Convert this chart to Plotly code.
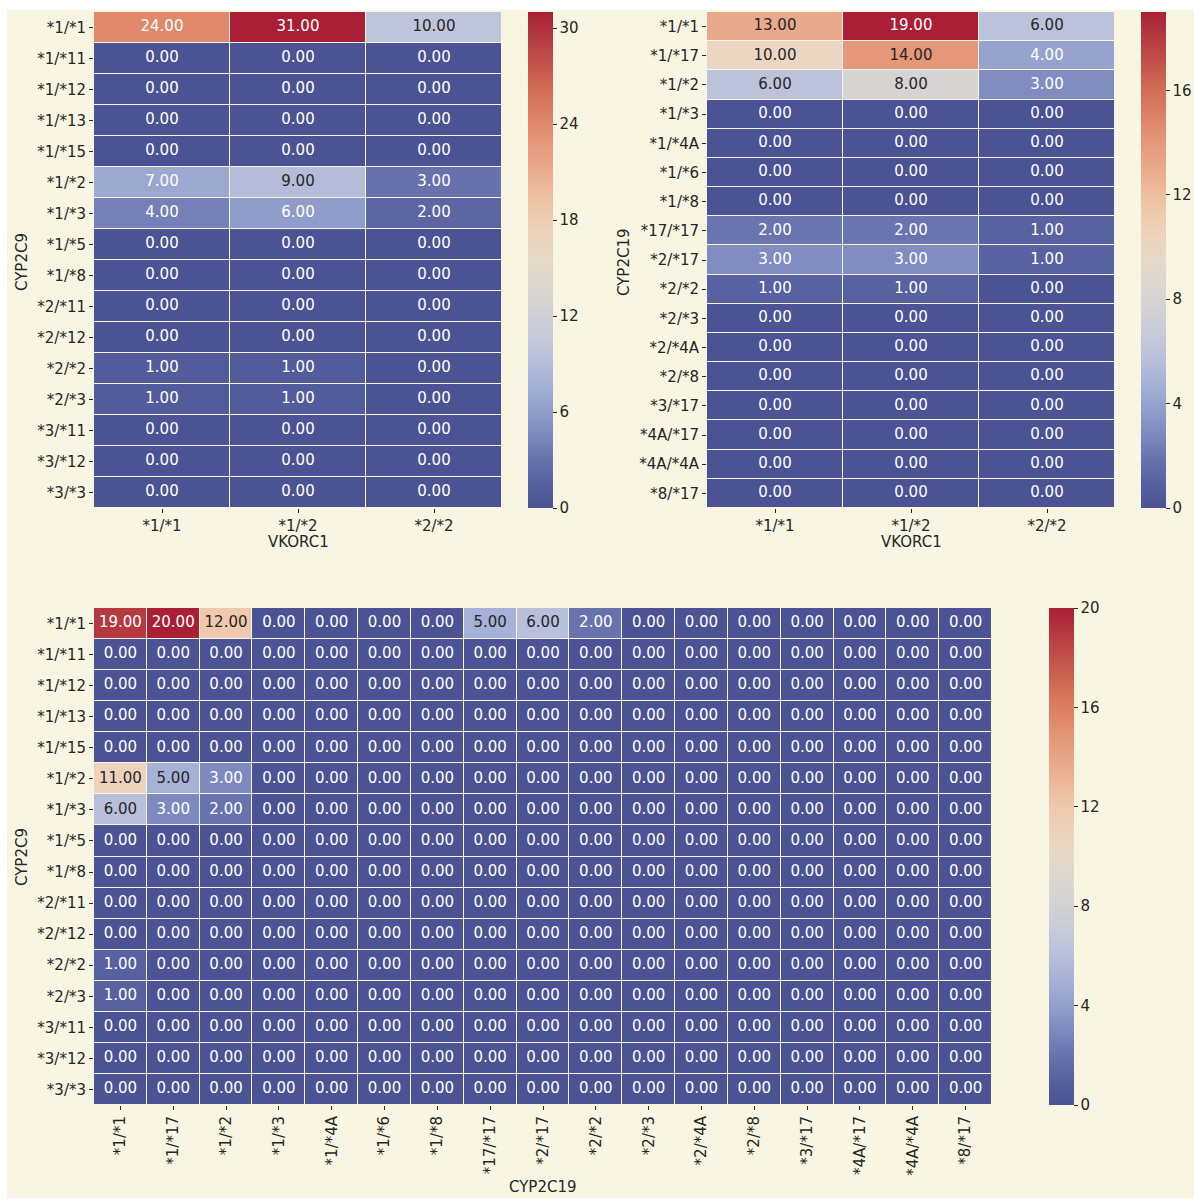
import plotly.graph_objects as go

# Genotype categories
cyp2c9 = ["*1/*1", "*1/*11", "*1/*12", "*1/*13", "*1/*15", "*1/*2", "*1/*3", "*1/*5",
          "*1/*8", "*2/*11", "*2/*12", "*2/*2", "*2/*3", "*3/*11", "*3/*12", "*3/*3"]
cyp2c19 = ["*1/*1", "*1/*17", "*1/*2", "*1/*3", "*1/*4A", "*1/*6", "*1/*8", "*17/*17",
           "*2/*17", "*2/*2", "*2/*3", "*2/*4A", "*2/*8", "*3/*17", "*4A/*17", "*4A/*4A", "*8/*17"]
vkorc1 = ["*1/*1", "*1/*2", "*2/*2"]

# CYP2C9 x VKORC1 counts
c9_vk = [
    [24, 31, 10],
    [0, 0, 0],
    [0, 0, 0],
    [0, 0, 0],
    [0, 0, 0],
    [7, 9, 3],
    [4, 6, 2],
    [0, 0, 0],
    [0, 0, 0],
    [0, 0, 0],
    [0, 0, 0],
    [1, 1, 0],
    [1, 1, 0],
    [0, 0, 0],
    [0, 0, 0],
    [0, 0, 0],
]

# CYP2C19 x VKORC1 counts
c19_vk = [
    [13, 19, 6],
    [10, 14, 4],
    [6, 8, 3],
    [0, 0, 0],
    [0, 0, 0],
    [0, 0, 0],
    [0, 0, 0],
    [2, 2, 1],
    [3, 3, 1],
    [1, 1, 0],
    [0, 0, 0],
    [0, 0, 0],
    [0, 0, 0],
    [0, 0, 0],
    [0, 0, 0],
    [0, 0, 0],
    [0, 0, 0],
]

# CYP2C9 x CYP2C19 counts
c9_c19 = [
    [19, 20, 12, 0, 0, 0, 0, 5, 6, 2, 0, 0, 0, 0, 0, 0, 0],
    [0] * 17,
    [0] * 17,
    [0] * 17,
    [0] * 17,
    [11, 5, 3, 0, 0, 0, 0, 0, 0, 0, 0, 0, 0, 0, 0, 0, 0],
    [6, 3, 2, 0, 0, 0, 0, 0, 0, 0, 0, 0, 0, 0, 0, 0, 0],
    [0] * 17,
    [0] * 17,
    [0] * 17,
    [0] * 17,
    [1, 0, 0, 0, 0, 0, 0, 0, 0, 0, 0, 0, 0, 0, 0, 0, 0],
    [1, 0, 0, 0, 0, 0, 0, 0, 0, 0, 0, 0, 0, 0, 0, 0, 0],
    [0] * 17,
    [0] * 17,
    [0] * 17,
]

W, H = 1194, 1200
BG = "#f8f6e2"
INK = "#262626"
FONT = "DejaVu Sans"

# Muted diverging blue-to-red scale
scale = [
    [0.00, "#4b5394"], [0.05, "#58619f"], [0.10, "#6873ae"], [0.15, "#7e8abf"],
    [0.20, "#939fcb"], [0.25, "#a6b1d6"], [0.30, "#b8bfda"], [0.35, "#c6cad9"],
    [0.40, "#d2d2d5"], [0.45, "#dcd7cf"], [0.50, "#e6d9c8"], [0.55, "#edd3bc"],
    [0.60, "#efc9ac"], [0.65, "#ecb797"], [0.70, "#e8a486"], [0.75, "#e39275"],
    [0.80, "#dc7e63"], [0.85, "#d06954"], [0.90, "#c2514a"], [0.95, "#b43a40"],
    [1.00, "#a81f36"],
]


def px_x(p):
    return p / W


def px_y(p):
    return 1 - p / H


fig = go.Figure()


def panel(idx, z, xs, ys, xdom_px, ydom_px, cb_left_px, dtick):
    sfx = "" if idx == 1 else str(idx)
    zmax = max(max(r) for r in z)
    fig.add_trace(go.Heatmap(
        z=z, x=xs, y=ys, zmin=0, zmax=zmax, colorscale=scale,
        xgap=1, ygap=1, hoverinfo="skip",
        xaxis="x" + sfx, yaxis="y" + sfx,
        colorbar=dict(
            x=px_x(cb_left_px), xanchor="left", thickness=25, xpad=0, ypad=0,
            y=px_y(ydom_px[0]), yanchor="top",
            len=(ydom_px[1] - ydom_px[0]) / H, lenmode="fraction",
            outlinewidth=0, ticks="outside", ticklen=4, tickcolor=INK,
            tick0=0, dtick=dtick,
            tickfont=dict(family=FONT, size=15, color=INK),
        ),
    ))
    # Cell labels, dark on mid-range colours and white elsewhere
    tx, ty, tt, tc = [], [], [], []
    for i, yv in enumerate(ys):
        for j, xv in enumerate(xs):
            v = z[i][j]
            f = v / zmax
            tx.append(xv)
            ty.append(yv)
            tt.append(f"{v:.2f}")
            tc.append(INK if 0.24 <= f <= 0.75 else "#ffffff")
    fig.add_trace(go.Scatter(
        x=tx, y=ty, text=tt, mode="text", hoverinfo="skip", showlegend=False,
        textfont=dict(family=FONT, size=15, color=tc),
        xaxis="x" + sfx, yaxis="y" + sfx,
    ))
    axis_common = dict(showgrid=False, zeroline=False, showline=False,
                       ticks="outside", ticklen=4, tickcolor=INK,
                       tickfont=dict(family=FONT, size=15, color=INK),
                       type="category")
    fig.layout["xaxis" + sfx] = dict(
        axis_common, domain=[px_x(xdom_px[0]), px_x(xdom_px[1])],
        anchor="y" + sfx, categoryorder="array", categoryarray=xs,
        range=[-0.5, len(xs) - 0.5],
    )
    fig.layout["yaxis" + sfx] = dict(
        axis_common, domain=[px_y(ydom_px[1]), px_y(ydom_px[0])],
        anchor="x" + sfx, categoryorder="array", categoryarray=ys,
        range=[len(ys) - 0.5, -0.5],
    )


panel(1, c9_vk, vkorc1, cyp2c9, (94, 502), (12, 508), 528, 6)
panel(2, c19_vk, vkorc1, cyp2c19, (707, 1115), (12, 508), 1141, 4)
panel(3, c9_c19, cyp2c19, cyp2c9, (94, 992), (608, 1105), 1049, 4)
fig.layout.xaxis3.tickangle = -90

titles = [
    ("CYP2C9", 22, 262, -90),
    ("VKORC1", 298, 542, 0),
    ("CYP2C19", 624, 262, -90),
    ("VKORC1", 911, 542, 0),
    ("CYP2C9", 22, 857, -90),
    ("CYP2C19", 543, 1187, 0),
]
for text, x, y, ang in titles:
    fig.add_annotation(text=text, x=px_x(x), y=px_y(y), xref="paper", yref="paper",
                       xanchor="center", yanchor="middle",
                       showarrow=False, textangle=ang,
                       font=dict(family=FONT, size=15, color=INK))

fig.add_shape(type="rect", xref="paper", yref="paper", layer="below",
              x0=px_x(7), x1=1, y0=px_y(1198), y1=px_y(10),
              fillcolor=BG, line=dict(width=0))

fig.update_layout(
    width=W, height=H, autosize=False, margin=dict(l=0, r=0, t=0, b=0),
    paper_bgcolor="#ffffff", plot_bgcolor="#dcdde9",
    showlegend=False, font=dict(family=FONT, color=INK),
)

fig.write_html("out.html", config={"responsive": False})
